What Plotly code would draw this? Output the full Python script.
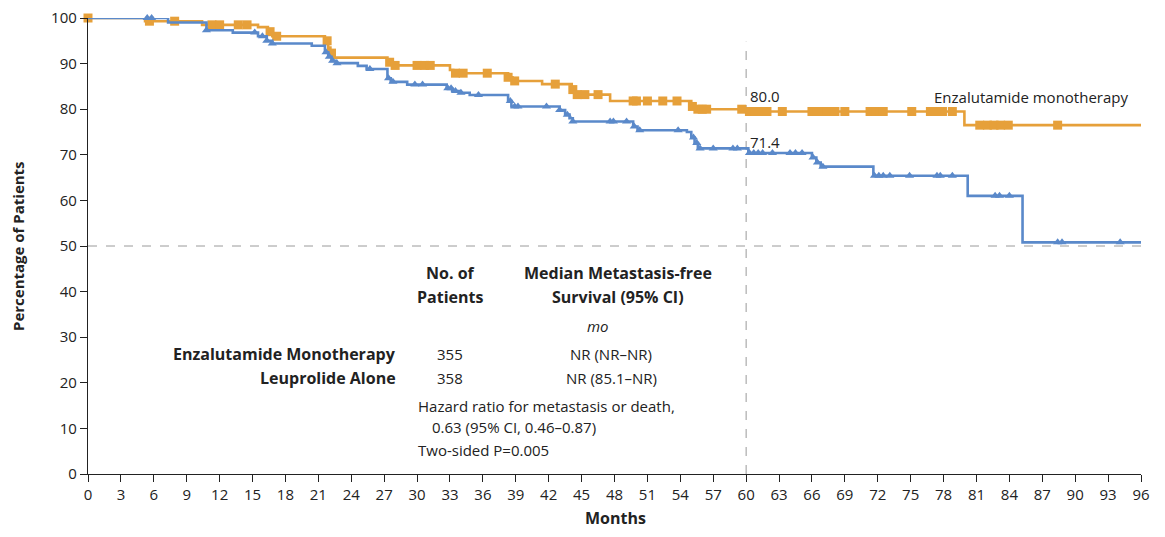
import numpy as np
import plotly.graph_objects as go

# ---- data ----
enz_time = [0, 5.2, 10.4, 15.5, 16.4, 16.8, 21.6, 21.9, 22.1, 22.4, 27.3, 27.8, 33.0, 33.3,
            38.3, 38.7, 41.4, 44.1, 44.4, 47.6, 55.0, 55.4, 60.3, 79.9, 96]
enz_surv = [100, 99.3, 98.5, 98.0, 97.0, 96.0, 95.0, 93.5, 92.3, 91.3, 90.3, 89.6, 88.6, 87.9,
            87.0, 86.2, 85.5, 84.3, 83.2, 81.8, 80.6, 80.0, 79.5, 76.5, 76.5]
enz_censor = [0, 5.6, 7.9, 11.3, 12.0, 13.7, 14.5, 16.6, 17.2, 21.8, 22.2, 27.5, 28.0, 30.0, 30.7,
              31.2, 33.5, 34.2, 36.4, 38.3, 38.9, 42.6, 44.2, 44.6, 45.3, 46.5, 49.7, 50.0, 51.0,
              52.4, 53.7, 55.1, 55.6, 56.0, 56.4, 59.6, 60.3, 60.8, 61.4, 61.9, 63.3, 66.0, 66.5,
              67.0, 67.4, 68.1, 69.0, 71.3, 71.8, 72.2, 72.5, 75.1, 76.8, 77.3, 77.9, 78.8, 81.3,
              82.0, 82.6, 83.2, 83.9, 88.4]

leu_time = [0, 7.3, 10.8, 13.2, 15.5, 16.3, 16.8, 20.4, 21.6, 21.9, 22.2, 22.6, 24.6, 25.4, 27.3,
            27.6, 29.1, 32.7, 33.2, 33.9, 34.8, 38.3, 38.6, 43.0, 43.5, 43.9, 44.2, 49.7, 50.1,
            54.6, 55.0, 55.3, 55.6, 60.2, 66.0, 66.4, 66.8, 71.6, 80.2, 85.2, 96]
leu_surv = [100, 99.0, 97.3, 96.8, 96.0, 95.0, 94.4, 93.9, 92.5, 91.5, 90.6, 90.1, 89.5, 88.8, 86.8,
            86.0, 85.4, 84.6, 84.0, 83.6, 83.1, 81.8, 80.6, 79.8, 78.8, 78.0, 77.3, 76.2, 75.4,
            75.0, 73.8, 72.6, 71.4, 70.4, 69.4, 68.3, 67.4, 65.4, 61.0, 50.8, 50.8]
leu_censor = [5.4, 5.8, 10.8, 15.2, 15.9, 16.3, 16.8, 21.7, 22.0, 22.3, 22.7, 25.7, 27.4, 27.8,
              29.8, 30.5, 32.8, 33.1, 33.5, 34.0, 35.6, 38.5, 38.9, 39.2, 41.8, 43.0, 43.7, 44.2,
              47.6, 47.9, 49.1, 49.8, 50.3, 53.8, 55.2, 55.5, 55.8, 57.0, 58.8, 59.2, 60.3, 60.7,
              61.1, 61.5, 62.4, 64.0, 64.5, 65.1, 66.1, 66.5, 67.0, 71.7, 72.1, 72.5, 73.1, 74.9,
              77.4, 77.7, 78.8, 82.7, 83.1, 84.0, 88.4, 88.8, 94.1]

x_ticks = list(range(0, 97, 3))
y_ticks = list(range(0, 101, 10))

ORANGE = "#E6A03A"
BLUE = "#5A89CA"
FONT = "Open Sans"
INK = "#222222"


def step_at(times, surv, t):
    idx = np.searchsorted(np.array(times), t, side="right") - 1
    return [surv[max(i, 0)] for i in np.atleast_1d(idx)]


fig = go.Figure()

for t, s, c, col, sym in [(enz_time, enz_surv, enz_censor, ORANGE, "square"),
                          (leu_time, leu_surv, leu_censor, BLUE, "triangle-up")]:
    fig.add_trace(go.Scatter(x=t, y=s, mode="lines", line=dict(color=col, width=2.6, shape="hv"),
                             showlegend=False, hoverinfo="skip", cliponaxis=False))
    fig.add_trace(go.Scatter(x=c, y=step_at(t, s, c), mode="markers",
                             marker=dict(symbol=sym, size=9 if sym == "square" else 8, color=col,
                                         line=dict(width=0)),
                             showlegend=False, hoverinfo="skip", cliponaxis=False))

# reference lines
fig.add_shape(type="line", x0=0, x1=96, y0=50, y1=50, line=dict(color="#9a9a9a", width=1, dash="dash"),
              layer="below")
fig.add_shape(type="line", x0=60, x1=60, y0=0, y1=94.8, line=dict(color="#9a9a9a", width=1, dash="dash"),
              layer="below")

ann = []
def txt(x, y, text, xanchor="left", bold=False, italic=False, size=15, xref="x", yref="y",
        textangle=0):
    t = text
    if bold:
        t = "<b>" + t + "</b>"
    if italic:
        t = "<i>" + t + "</i>"
    ann.append(dict(x=x, y=y, xref=xref, yref=yref, text=t, showarrow=False, xanchor=xanchor,
                    yanchor="middle", textangle=textangle,
                    font=dict(family=FONT, size=size, color=INK)))

txt(60.2, 83.0, "80.0")
txt(60.2, 72.9, "71.4")
txt(95.0, 82.7, "Enzalutamide monotherapy", xanchor="right")
txt(96.3, 53.6, "Leuprolide alone", xanchor="right")

# table text positioned in data coordinates (from screen pixels of the plot area)
def mx(px):
    return (px - 88) / (1141 - 88) * 96
def my(py):
    return (474 - py) / (474 - 18) * 100

txt(mx(450), my(273), "No. of", xanchor="center", bold=True, size=16)
txt(mx(450), my(297), "Patients", xanchor="center", bold=True, size=16)
txt(mx(618), my(273), "Median Metastasis-free", xanchor="center", bold=True, size=16)
txt(mx(618), my(297), "Survival (95% CI)", xanchor="center", bold=True, size=16)
txt(mx(598), my(326), "mo", xanchor="center", italic=True)
txt(mx(398), my(354), "Enzalutamide Monotherapy", xanchor="right", bold=True, size=16)
txt(mx(398), my(378), "Leuprolide Alone", xanchor="right", bold=True, size=16)
txt(mx(450), my(354), "355", xanchor="center")
txt(mx(450), my(378), "358", xanchor="center")
txt(mx(611), my(354), "NR (NR–NR)", xanchor="center")
txt(mx(611), my(378), "NR (85.1–NR)", xanchor="center")
txt(mx(416), my(406), "Hazard ratio for metastasis or death,")
txt(mx(430), my(427), "0.63 (95% CI, 0.46–0.87)")
txt(mx(416), my(450), "Two-sided P=0.005")

# axis titles
ann.append(dict(x=(615 - 88) / (1141 - 88), y=(474 - 518) / 456, xref="paper", yref="paper",
                text="<b>Months</b>", showarrow=False, xanchor="center", yanchor="middle",
                font=dict(family=FONT, size=16, color=INK)))
ann.append(dict(x=(18 - 88) / (1141 - 88), y=(474 - 246) / 456, xref="paper", yref="paper",
                text="<b>Percentage of Patients</b>", showarrow=False, xanchor="center",
                yanchor="middle", textangle=-90, font=dict(family=FONT, size=15, color=INK)))

# the page body adds an 8px margin, so the figure is sized/placed to compensate
fig.update_layout(
    width=1149, height=521,
    margin=dict(l=80, r=16, t=10, b=55, autoexpand=False),
    paper_bgcolor="white", plot_bgcolor="white",
    font=dict(family=FONT, size=15, color=INK),
    annotations=ann,
    xaxis=dict(range=[0, 96], tickvals=x_ticks, ticktext=[str(v) for v in x_ticks],
               showgrid=False, zeroline=False, showline=True, linecolor=INK, linewidth=1.3,
               ticks="outside", ticklen=7, tickcolor=INK, tickwidth=1.3, automargin=False,
               ticklabeloverflow="allow",
               tickfont=dict(family=FONT, size=15, color=INK)),
    yaxis=dict(range=[0, 100], tickvals=y_ticks, showgrid=False, zeroline=False, showline=True,
               linecolor=INK, linewidth=1.3, ticks="outside", ticklen=7, tickcolor=INK,
               tickwidth=1.3, automargin=False, ticklabeloverflow="allow",
               tickfont=dict(family=FONT, size=15, color=INK)),
)

fig.write_html("out.html")
